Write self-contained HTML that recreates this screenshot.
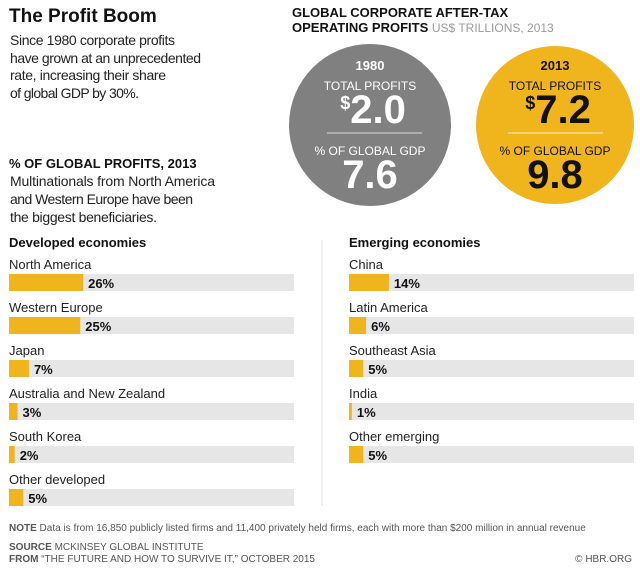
<!DOCTYPE html>
<html><head><meta charset="utf-8"><style>
html,body{margin:0;padding:0;background:#fff;width:640px;height:569px;overflow:hidden}
svg{display:block;font-family:"Liberation Sans",sans-serif}
</style></head><body>
<svg id="chart" width="640" height="569" viewBox="0 0 640 569">
<text x="9" y="22" font-size="19" font-weight="bold" fill="#111">The Profit Boom</text>
<g font-size="14" fill="#222">
<text x="10" y="45" textLength="165">Since 1980 corporate profits</text>
<text x="10" y="63" textLength="191">have grown at an unprecedented</text>
<text x="10" y="80" textLength="156">rate, increasing their share</text>
<text x="10" y="98" textLength="129">of global GDP by 30%.</text>
</g>
<text x="9" y="168" font-size="13" font-weight="bold" fill="#111">% OF GLOBAL PROFITS, 2013</text>
<g font-size="14" fill="#222">
<text x="10" y="186" textLength="205">Multinationals from North America</text>
<text x="10" y="204" textLength="183">and Western Europe have been</text>
<text x="10" y="222" textLength="147">the biggest beneficiaries.</text>
</g>
<text x="292" y="17" font-size="13" font-weight="bold" fill="#111">GLOBAL CORPORATE AFTER-TAX</text>
<text x="292" y="32" font-size="13" font-weight="bold" fill="#111">OPERATING PROFITS <tspan font-weight="normal" fill="#999" font-size="12">US$ TRILLIONS, 2013</tspan></text>
<g>
<circle cx="370" cy="125" r="81" fill="#808080"/>
<text x="370" y="70" text-anchor="middle" font-size="13" font-weight="bold" fill="#fff">1980</text>
<text x="370" y="90" text-anchor="middle" font-size="12" fill="#fff">TOTAL PROFITS</text>
<text x="373" y="123" text-anchor="middle" font-size="40" font-weight="bold" fill="#fff"><tspan font-size="18" dy="-14">$</tspan><tspan dy="14">2.0</tspan></text>
<line x1="327" y1="133" x2="422" y2="133" stroke="#ddd" stroke-width="1"/>
<text x="370" y="155" text-anchor="middle" font-size="12" fill="#fff">% OF GLOBAL GDP</text>
<text x="370" y="188" text-anchor="middle" font-size="40" font-weight="bold" fill="#fff">7.6</text>
</g>
<g>
<circle cx="555" cy="125" r="79" fill="#f0b41c"/>
<text x="555" y="70" text-anchor="middle" font-size="13" font-weight="bold" fill="#111">2013</text>
<text x="555" y="90" text-anchor="middle" font-size="12" fill="#111">TOTAL PROFITS</text>
<text x="558" y="123" text-anchor="middle" font-size="40" font-weight="bold" fill="#111"><tspan font-size="18" dy="-14">$</tspan><tspan dy="14">7.2</tspan></text>
<line x1="508" y1="133" x2="603" y2="133" stroke="#fff3c8" stroke-width="1"/>
<text x="555" y="155" text-anchor="middle" font-size="12" fill="#111">% OF GLOBAL GDP</text>
<text x="555" y="188" text-anchor="middle" font-size="40" font-weight="bold" fill="#111">9.8</text>
</g>
<line x1="322" y1="240" x2="322" y2="506" stroke="#ddd" stroke-width="1"/>
<text x="9" y="247" font-size="13" font-weight="bold" fill="#111">Developed economies</text>
<text x="349" y="247" font-size="13" font-weight="bold" fill="#111">Emerging economies</text>
<g id="bars"></g>
<text x="9" y="531" font-size="10" fill="#555"><tspan font-weight="bold">NOTE</tspan>  Data is from 16,850 publicly listed firms and 11,400 privately held firms, each with more than $200 million in annual revenue</text>
<text x="9" y="550" font-size="10" fill="#555"><tspan font-weight="bold">SOURCE</tspan>  MCKINSEY GLOBAL INSTITUTE</text>
<text x="9" y="562" font-size="10" fill="#555"><tspan font-weight="bold">FROM</tspan>  “THE FUTURE AND HOW TO SURVIVE IT,” OCTOBER 2015</text>
<text x="632" y="562" font-size="10" fill="#555" text-anchor="end">© HBR.ORG</text>
</svg>
<script>
const devCategories = ["North America","Western Europe","Japan","Australia and New Zealand","South Korea","Other developed"];
const devValues = [26,25,7,3,2,5];
const emgCategories = ["China","Latin America","Southeast Asia","India","Other emerging"];
const emgValues = [14,6,5,1,5];
const NS="http://www.w3.org/2000/svg";
const g=document.getElementById('bars');
function x(v,x0,w){return w*v/100;}
function rowY(i){return 264+i*43;}
function mk(t,a){const e=document.createElementNS(NS,t);for(const k in a)e.setAttribute(k,a[k]);return e;}
function drawCol(cats,vals,x0,w){
  cats.forEach((c,i)=>{
    const y=rowY(i);
    const lab=mk('text',{x:x0,y:y+5,'font-size':13,fill:'#222'});
    
    
    lab.textContent=c;g.appendChild(lab);
    const bg=mk('rect',{x:x0,y:y+10,width:w,height:17,fill:'#e6e6e6'});
    
    
    g.appendChild(bg);
    const bw=x(vals[i],x0,w);
    const b=mk('rect',{x:x0,y:y+10,width:bw,height:17,fill:'#f0b41c'});
    
    
    g.appendChild(b);
    const v=mk('text',{x:x0+bw+5,y:y+24,'font-size':13,'font-weight':'bold',fill:'#111'});
    
    
    v.textContent=vals[i]+'%';g.appendChild(v);
  });
}
drawCol(devCategories,devValues,9,285);
drawCol(emgCategories,emgValues,349,285);
</script>
</body></html>
